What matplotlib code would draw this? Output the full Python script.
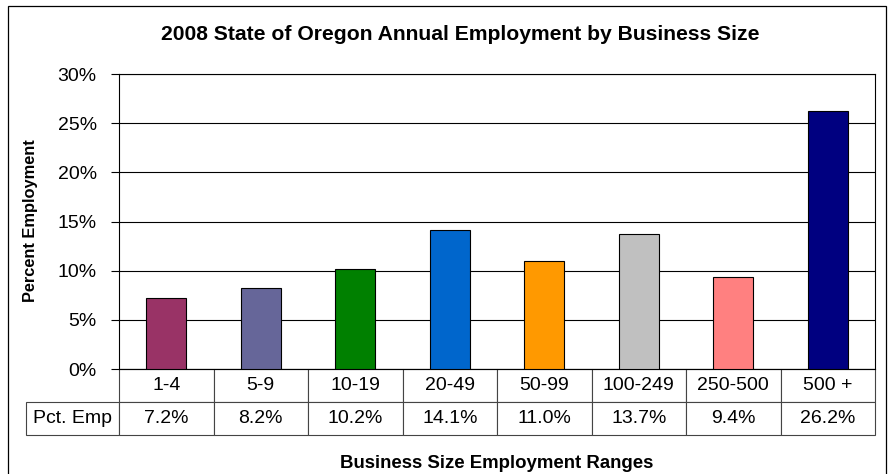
import matplotlib
matplotlib.use('Agg')
import matplotlib.pyplot as plt
from matplotlib.patches import Rectangle

categories = ['1-4', '5-9', '10-19', '20-49', '50-99', '100-249', '250-500', '500 +']
pct_emp = [7.2, 8.2, 10.2, 14.1, 11.0, 13.7, 9.4, 26.2]
bar_colors = ['#993366', '#666699', '#008000', '#0066CC', '#FF9900', '#C0C0C0', '#FF8080', '#000080']
y_ticks = [0, 5, 10, 15, 20, 25, 30]

plt.rcParams['font.family'] = ['Liberation Sans', 'DejaVu Sans']

W, H = 892, 474
fig = plt.figure(figsize=(W / 100, H / 100), dpi=100)

# plot area in pixels: x 119..875, y 74..369
ax = fig.add_axes([119 / W, 1 - 369 / H, (875 - 119) / W, (369 - 74) / H])

x = range(len(categories))
ax.bar(x, pct_emp, width=0.42, color=bar_colors, edgecolor='black', linewidth=0.8, zorder=3)
ax.set_xlim(-0.5, len(categories) - 0.5)
ax.set_ylim(0, 30)
ax.set_yticks(y_ticks)
ax.set_yticklabels([f'{t}%' for t in y_ticks], fontsize=14)
ax.tick_params(axis='y', length=6, width=0.8, pad=10, direction='out')
ax.set_xticks([])
ax.grid(axis='y', color='black', linewidth=0.8, zorder=0)
for s in ax.spines.values():
    s.set_linewidth(0.8)
    s.set_color('black')

# data table under the plot
row_label_w = (119 - 26) / 756
tab_h = (435 - 369) / 295
cell_text = [[''] + categories, ['Pct. Emp'] + [f'{v:.1f}%' for v in pct_emp]]
tbl = ax.table(cellText=cell_text, colWidths=[row_label_w] + [1 / 8] * 8,
               cellLoc='center', bbox=[-row_label_w, -tab_h, 1 + row_label_w, tab_h])
tbl.auto_set_font_size(False)
tbl.set_fontsize(14)
for (r, c), cell in tbl.get_celld().items():
    cell.set_linewidth(0.8)
    cell.set_edgecolor('#444444')
tbl[0, 0].visible_edges = 'open'

fig.text(460 / W, 1 - 35 / H, '2008 State of Oregon Annual Employment by Business Size',
         ha='center', va='center', fontsize=15.2, fontweight='bold')
fig.text(31 / W, 1 - 221 / H, 'Percent Employment', rotation=90, ha='center', va='center',
         fontsize=11.8, fontweight='bold')
fig.text(497 / W, 1 - 463 / H, 'Business Size Employment Ranges',
         ha='center', va='center', fontsize=13.4, fontweight='bold')

# outer chart border
fig.patches.append(Rectangle((8 / W, -0.02), (886 - 8) / W, 1.02 - 6 / H, transform=fig.transFigure,
                             fill=False, edgecolor='black', linewidth=0.9))

fig.savefig('out.png', dpi=100)
